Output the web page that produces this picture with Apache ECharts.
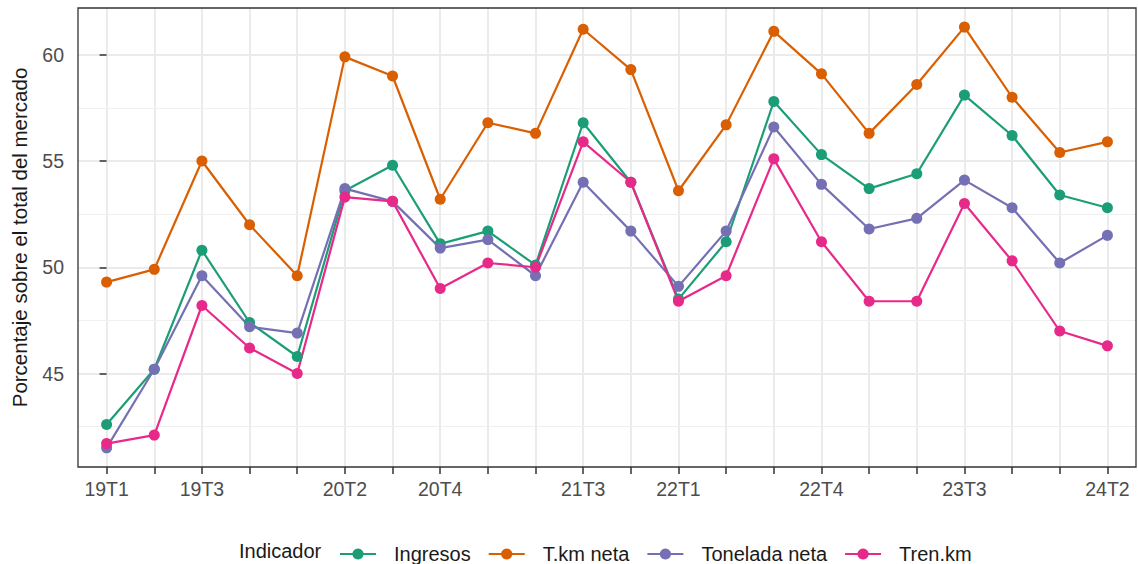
<!DOCTYPE html>
<html>
<head>
<meta charset="utf-8">
<script src="https://cdn.jsdelivr.net/npm/echarts@6/dist/echarts.min.js"></script>
<style>
  html, body { margin: 0; padding: 0; background: #fff; }
  #chart { width: 1138px; height: 564px; }
</style>
</head>
<body>
<div id="chart"></div>
<script>
var categories = ['19T1', '19T2', '19T3', '19T4', '20T1', '20T2', '20T3', '20T4', '21T1', '21T2', '21T3',
  '21T4', '22T1', '22T2', '22T3', '22T4', '23T1', '23T2', '23T3', '23T4', '24T1', '24T2'];
var shownLabels = ['19T1', '19T3', '20T2', '20T4', '21T3', '22T1', '22T4', '23T3', '24T2'];
var yTicks = [45, 50, 55, 60];
var yMinor = [42.5, 47.5, 52.5, 57.5];

var ingresos = [42.6, 45.2, 50.8, 47.4, 45.8, 53.6, 54.8, 51.1, 51.7, 50.1, 56.8,
  54.0, 48.5, 51.2, 57.8, 55.3, 53.7, 54.4, 58.1, 56.2, 53.4, 52.8];
var tkmNeta = [49.3, 49.9, 55.0, 52.0, 49.6, 59.9, 59.0, 53.2, 56.8, 56.3, 61.2,
  59.3, 53.6, 56.7, 61.1, 59.1, 56.3, 58.6, 61.3, 58.0, 55.4, 55.9];
var toneladaNeta = [41.5, 45.2, 49.6, 47.2, 46.9, 53.7, 53.1, 50.9, 51.3, 49.6, 54.0,
  51.7, 49.1, 51.7, 56.6, 53.9, 51.8, 52.3, 54.1, 52.8, 50.2, 51.5];
var trenKm = [41.7, 42.1, 48.2, 46.2, 45.0, 53.3, 53.1, 49.0, 50.2, 50.0, 55.9,
  54.0, 48.4, 49.6, 55.1, 51.2, 48.4, 48.4, 53.0, 50.3, 47.0, 46.3];

var seriesNames = ['Ingresos', 'T.km neta', 'Tonelada neta', 'Tren.km'];
var seriesValues = [ingresos, tkmNeta, toneladaNeta, trenKm];
var colors = ['#1B9E77', '#D95F02', '#7570B3', '#E7298A'];

var font = '"Liberation Sans", Arial, sans-serif';
var idx = categories.map(function (c, i) { return i; });
var labelIdx = shownLabels.map(function (c) { return categories.indexOf(c); });

var chart = echarts.init(document.getElementById('chart'), null, { renderer: 'svg' });
chart.setOption({
  animation: false,
  textStyle: { fontFamily: font },
  title: {
    text: 'Indicador', left: 239, top: 541, padding: 0,
    textStyle: { fontFamily: font, fontSize: 20, fontWeight: 'normal', color: '#1a1a1a' }
  },
  legend: {
    left: 339, top: 544, padding: 0, itemWidth: 36, itemHeight: 14, itemGap: 17,
    data: seriesNames,
    textStyle: { fontFamily: font, fontSize: 20, color: '#1a1a1a', padding: [0, 0, 0, 13] }
  },
  grid: { left: 78, right: 2, top: 8, bottom: 97, show: true, borderColor: '#333333', borderWidth: 1.3, z: 3 },
  xAxis: {
    type: 'value', min: -0.6, max: 21.6,
    axisLine: { show: false },
    axisTick: { show: true, customValues: idx, length: 7, lineStyle: { color: '#333333', width: 1.5 } },
    axisLabel: {
      customValues: labelIdx, margin: 12, fontSize: 19.5, color: '#4d4d4d', fontFamily: font,
      formatter: function (v) { return categories[Math.round(v)]; }
    },
    splitLine: { show: true, lineStyle: { color: '#ebebeb', width: 2 } }
  },
  yAxis: [{
    type: 'value', min: 40.6, max: 62.2,
    name: 'Porcentaje sobre el total del mercado', nameLocation: 'middle', nameGap: 48,
    nameTextStyle: { fontSize: 20.5, color: '#1a1a1a', fontFamily: font },
    axisLine: { show: false },
    axisTick: { show: true, customValues: yTicks, length: 7, lineStyle: { color: '#333333', width: 1.5 } },
    axisLabel: { customValues: yTicks, margin: 14, fontSize: 19.5, color: '#4d4d4d', fontFamily: font },
    splitLine: { show: true, lineStyle: { color: '#ebebeb', width: 2 } },
    z: 2
  }, {
    type: 'value', min: 40.6, max: 62.2, position: 'left',
    axisLine: { show: false },
    axisTick: { show: false, customValues: yMinor },
    axisLabel: { show: false, customValues: yMinor },
    splitLine: { show: true, lineStyle: { color: '#efefef', width: 1 } },
    z: 1
  }],
  series: seriesNames.map(function (name, s) {
    return {
      name: name, type: 'line', yAxisIndex: 0,
      data: seriesValues[s].map(function (v, i) { return [i, v]; }),
      symbol: 'circle', symbolSize: 11,
      lineStyle: { color: colors[s], width: 2.2 },
      itemStyle: { color: colors[s] },
      z: 4
    };
  })
});
</script>
</body>
</html>
